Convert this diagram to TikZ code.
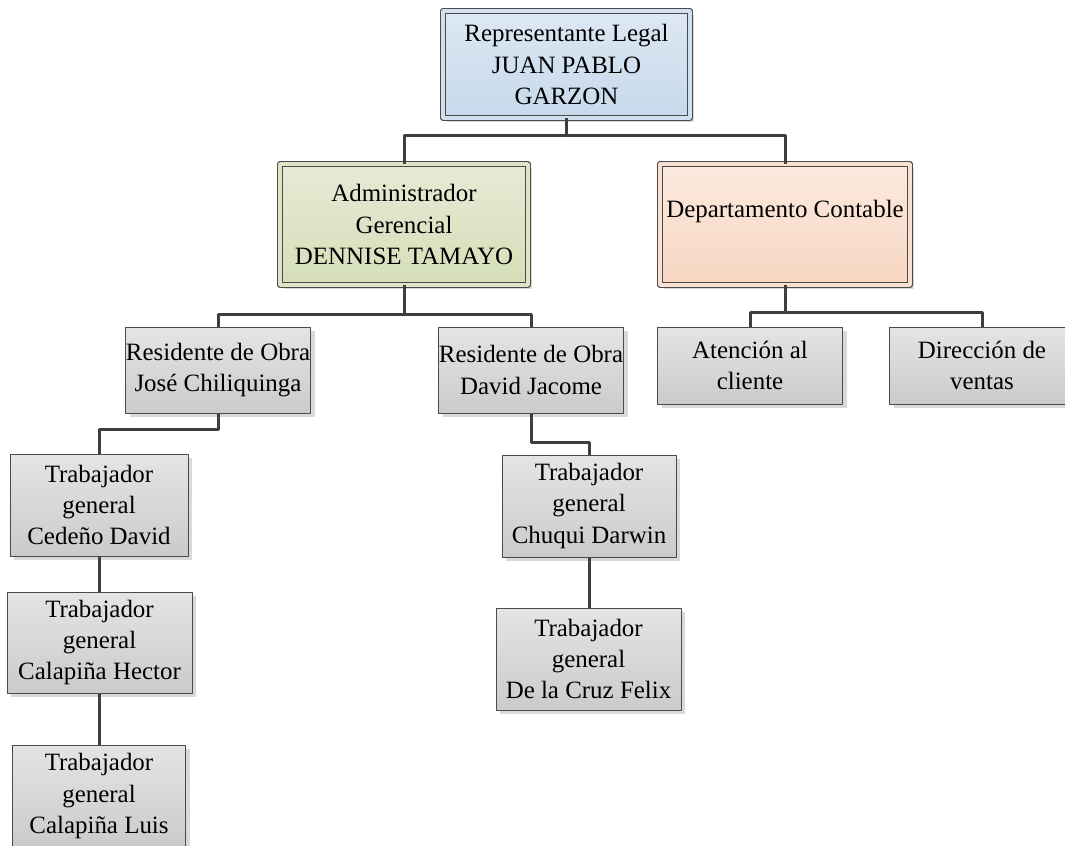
\documentclass[tikz,border=0pt]{standalone}
\usepackage{fontspec}
\setmainfont{Liberation Serif}
\usepackage{tikz}
\usetikzlibrary{shadows}

\definecolor{borde}{HTML}{4A4A4A}
\definecolor{linea}{HTML}{3E3E3E}
\definecolor{sombra}{HTML}{D9D9D9}
\definecolor{grisA}{HTML}{E4E4E4}
\definecolor{grisB}{HTML}{CBCBCB}
\definecolor{azulA}{HTML}{DDE8F3}
\definecolor{azulB}{HTML}{C6D9EB}
\definecolor{verdeA}{HTML}{E6EBD5}
\definecolor{verdeB}{HTML}{D5DEB8}
\definecolor{salmonA}{HTML}{FBEADF}
\definecolor{salmonB}{HTML}{F7D6C2}

\tikzset{
  dim/.style 2 args={minimum width=#1*0.75pt, minimum height=#2*0.75pt},
  cargo/.style={draw=borde, line width=0.75pt, top color=grisA, bottom color=grisB,
    drop shadow={shadow xshift=3pt, shadow yshift=-3pt, fill=sombra, opacity=1}},
  jefe/.style={cargo, line width=0.6pt, double distance=2.6pt},
  azul/.style={jefe, top color=azulA, bottom color=azulB, double=azulA!50!azulB},
  verde/.style={jefe, top color=verdeA, bottom color=verdeB, double=verdeA!50!verdeB},
  salmon/.style={jefe, top color=salmonA, bottom color=salmonB, double=salmonA!50!salmonB},
  enlace/.style={draw=linea, line width=2.25pt}
}

\begin{document}
\begin{tikzpicture}[line join=round,x=0.75pt,y=-0.75pt,
  every node/.style={font=\fontsize{18.7}{23.6}\selectfont, align=center, inner sep=0pt}]
		\useasboundingbox (0,0) rectangle (1065,846);
		\clip (0,0) rectangle (1065,846);
		% cargos
		\node[azul, dim={247}{107}] (rep) at (566.5,64.5) {Representante Legal\\JUAN PABLO\\GARZON};
		\node[verde, dim={248}{121}] (admin) at (404,224.5) {Administrador\\Gerencial\\DENNISE TAMAYO};
		\node[salmon, dim={250}{121}] (dept) at (785,224.5) {Departamento Contable\\\mbox{}};
		\node[cargo, dim={185}{86}] (res1) at (218,370) {Residente de Obra\\José Chiliquinga};
		\node[cargo, dim={185}{86}] (res2) at (531,370) {Residente de Obra\\David Jacome};
		\node[cargo, dim={185}{77}] (aten) at (750,365.5) {Atención al\\cliente};
		\node[cargo, dim={185}{77}] (dir) at (982,365.5) {Dirección de\\ventas};
		\node[cargo, dim={178}{102}] (ced) at (99,505) {Trabajador\\general\\Cedeño David};
		\node[cargo, dim={185}{101}] (hec) at (99.5,642.5) {Trabajador\\general\\Calapiña Hector};
		\node[cargo, dim={173}{102}] (luis) at (99,796) {Trabajador\\general\\Calapiña Luis};
		\node[cargo, dim={174}{102}] (chu) at (589,506) {Trabajador\\general\\Chuqui Darwin};
		\node[cargo, dim={185}{102}] (cruz) at (588.5,659) {Trabajador\\general\\De la Cruz Felix};
		% enlaces
		\draw[enlace] (rep.south) -- (rep.south |- 0,135) -| (admin.north);
		\draw[enlace] (rep.south |- 0,135) -| (dept.north);
		\draw[enlace] (admin.south) -- (admin.south |- 0,314) -| (res1.north);
		\draw[enlace] (admin.south |- 0,314) -| (res2.north);
		\draw[enlace] (dept.south) -- (dept.south |- 0,312) -| (aten.north);
		\draw[enlace] (dept.south |- 0,312) -| (dir.north);
		\draw[enlace] (res1.south) -- (res1.south |- 0,429) -| (ced.north);
		\draw[enlace] (ced.south) -- (ced.south |- hec.north);
		\draw[enlace] (hec.south) -- (hec.south |- luis.north);
		\draw[enlace] (res2.south) -- (res2.south |- 0,442) -| (chu.north);
		\draw[enlace] (chu.south) -- (chu.south |- cruz.north);
\end{tikzpicture}
\end{document}
